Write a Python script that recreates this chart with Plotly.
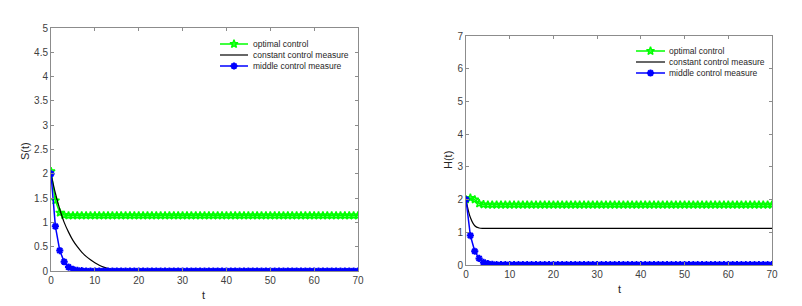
import plotly.graph_objects as go

t = list(range(0, 71))

# S(t) panel
s_optimal = [2.05, 1.45, 1.2, 1.15] + [1.14] * 67
s_constant = [2.0, 1.6, 1.27, 1.0, 0.8, 0.63, 0.5, 0.39, 0.3, 0.23, 0.17, 0.12,
              0.08, 0.05, 0.03, 0.02, 0.01] + [0.0] * 54
s_middle = [2.0, 0.92, 0.42, 0.19, 0.08, 0.035, 0.015, 0.006] + [0.0] * 63

# H(t) panel
h_optimal = [2.0, 2.05, 2.0, 1.88, 1.85] + [1.84] * 66
h_constant = [2.0, 1.45, 1.2, 1.13] + [1.12] * 67
h_middle = [2.0, 0.9, 0.42, 0.2, 0.08, 0.04, 0.02] + [0.01] * 64

names = ["optimal control", "constant control measure", "middle control measure"]

GREEN = "#00ff00"
BLUE = "#0000ff"
BLACK = "#000000"
FONT = "Arial, Liberation Sans, sans-serif"
TXT = "#262626"

STYLES = [
    dict(mode="lines+markers", line=dict(color=GREEN, width=1.5),
         marker=dict(symbol="star-open", size=6, color=GREEN, line=dict(color=GREEN, width=1.5))),
    dict(mode="lines", line=dict(color=BLACK, width=1.2)),
    dict(mode="lines+markers", line=dict(color=BLUE, width=1.5),
         marker=dict(symbol="asterisk-open", size=6, color=BLUE, line=dict(color=BLUE, width=2))),
]

fig = go.Figure()

def add_panel(xa, ya, series):
    for i, ys in enumerate(series):
        st = dict(STYLES[i])
        if i == 1:
            st = dict(mode="lines", line=dict(color=BLACK, width=1.2, shape="spline"))
        fig.add_trace(go.Scatter(x=t, y=ys, name=names[i], showlegend=False,
                                 xaxis=xa, yaxis=ya, hoverinfo="skip", **st))

add_panel("x", "y", [s_optimal, s_constant, s_middle])
add_panel("x2", "y2", [h_optimal, h_constant, h_middle])

W, H = 802, 306

# manual legends (pixel coordinates on an overlay axis) to match the compact row spacing
legend_boxes = [dict(x0=220, x1=248, tx=251, rows=[44, 55, 66]),
                dict(x0=636, x1=665, tx=667, rows=[51, 62, 73])]
annotations = []
for lb in legend_boxes:
    for i, ry in enumerate(lb["rows"]):
        st = dict(STYLES[i])
        xs = [lb["x0"], (lb["x0"] + lb["x1"]) / 2, lb["x1"]]
        if "markers" in st["mode"]:
            st = dict(st, mode="lines")
            fig.add_trace(go.Scatter(x=xs, y=[ry] * 3, showlegend=False, xaxis="x3", yaxis="y3",
                                     hoverinfo="skip", **st))
            fig.add_trace(go.Scatter(x=[xs[1]], y=[ry], mode="markers", showlegend=False,
                                     xaxis="x3", yaxis="y3", hoverinfo="skip",
                                     marker=STYLES[i]["marker"]))
        else:
            fig.add_trace(go.Scatter(x=xs, y=[ry] * 3, showlegend=False, xaxis="x3", yaxis="y3",
                                     hoverinfo="skip", **st))
        annotations.append(dict(x=lb["tx"], y=ry, xref="x3", yref="y3", text=names[i],
                                showarrow=False, xanchor="left", yanchor="middle",
                                font=dict(family=FONT, size=8.5, color=TXT)))

# axis titles
def title_ann(x, y, text, angle=0):
    return dict(x=x / W, y=1 - y / H, xref="paper", yref="paper", text=text, textangle=angle,
                showarrow=False, xanchor="center", yanchor="middle",
                font=dict(family=FONT, size=11, color=TXT))

annotations += [
    title_ann(25, 151, "S(t)", -90),
    title_ann(203, 295, "t"),
    title_ann(448, 160, "H(t)", -90),
    title_ann(619, 289, "t"),
]

axis_common = dict(showgrid=False, zeroline=False, showline=True, mirror="ticks",
                   linecolor="#8c8c8c", linewidth=1, ticks="inside", ticklen=3,
                   tickcolor="#8c8c8c", automargin=False,
                   tickfont=dict(family=FONT, size=10, color="#404040"))

fig.update_layout(
    template="none",
    width=W, height=H,
    margin=dict(l=0, r=0, t=0, b=0, pad=0, autoexpand=False),
    paper_bgcolor="white", plot_bgcolor="rgba(0,0,0,0)",
    font=dict(family=FONT, color=TXT),
    showlegend=False,
    xaxis=dict(domain=[51 / W, 358 / W], range=[0, 70], dtick=10, anchor="y", **axis_common),
    yaxis=dict(domain=[1 - 271 / H, 1 - 28 / H], range=[0, 5], dtick=0.5, anchor="x", **axis_common),
    xaxis2=dict(domain=[466 / W, 772 / W], range=[0, 70], dtick=10, anchor="y2", **axis_common),
    yaxis2=dict(domain=[1 - 265 / H, 1 - 36 / H], range=[0, 7], dtick=1, anchor="x2", **axis_common),
    xaxis3=dict(domain=[0, 1], range=[0, W], visible=False, fixedrange=True, anchor="y3",
                automargin=False),
    yaxis3=dict(domain=[0, 1], range=[H, 0], visible=False, fixedrange=True, anchor="x3",
                automargin=False),
    annotations=annotations,
)

fig.write_html("out.html", config={"displayModeBar": False},
               post_script="document.body.style.margin='0';document.body.style.overflow='hidden';")
